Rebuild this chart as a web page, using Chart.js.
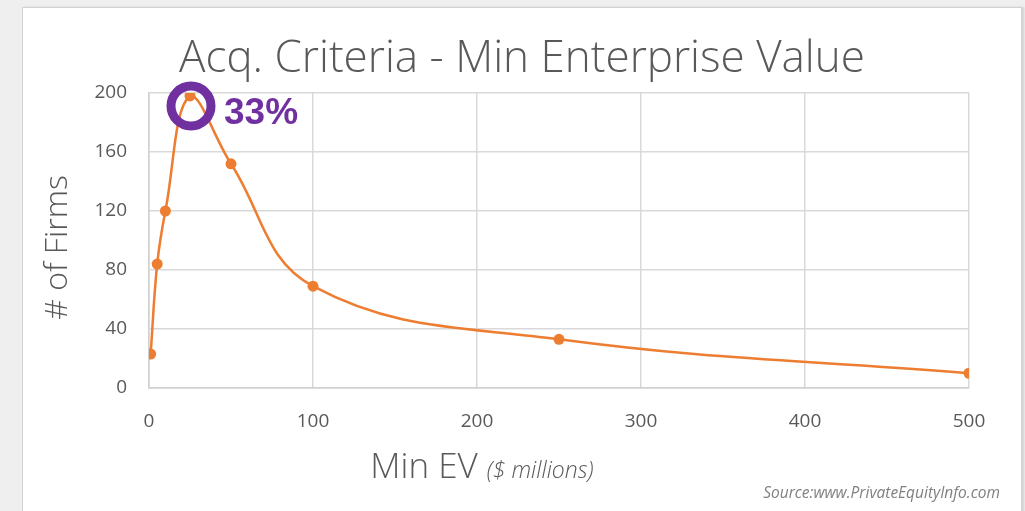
<!DOCTYPE html>
<html>
<head>
<meta charset="utf-8">
<script src="https://cdn.jsdelivr.net/npm/chart.js@4.4.1/dist/chart.umd.min.js"></script>
<style>
  html, body { margin: 0; padding: 0; }
  body { width: 1025px; height: 511px; background: #efefef; overflow: hidden; position: relative; }
  #card { position: absolute; left: 22px; top: 7px; width: 998px; height: 510px; background: #ffffff;
          border: 1px solid #d2d2d2; border-bottom: none; box-shadow: 2px 0 2px rgba(0,0,0,0.12); }
  #wrap { position: absolute; left: 0; top: 0; width: 998px; height: 503px; }
</style>
</head>
<body>
<div id="card"><div id="wrap"><canvas id="c"></canvas></div></div>
<script>
// ---- data ----
const chartTitle = 'Acq. Criteria - Min Enterprise Value';
const yAxisTitle = '# of Firms';
const xAxisTitleMain = 'Min EV';
const xAxisTitleUnit = '($ millions)';
const sourceNote = 'Source:www.PrivateEquityInfo.com';
const calloutText = '33%';
const calloutIndex = 3;

const minEV = [1, 5, 10, 25, 50, 100, 250, 500];
const firmCounts = [23, 84, 120, 198, 152, 69, 33, 10];

const xTicks = [0, 100, 200, 300, 400, 500];
const yTicks = [0, 40, 80, 120, 160, 200];

const points = minEV.map((v, i) => ({ x: v, y: firmCounts[i] }));

const textGray = '#595959';
const orange = '#ED7D31';
const purple = '#7030A0';
const sans = '"Open Sans", "DejaVu Sans", sans-serif';

const annotations = {
  id: 'annotations',
  afterDatasetsDraw(chart) {
    const ctx = chart.ctx;
    const pt = chart.getDatasetMeta(0).data[calloutIndex];
    ctx.save();
    // ring around peak
    ctx.beginPath();
    ctx.strokeStyle = purple;
    ctx.lineWidth = 9;
    ctx.arc(pt.x + 1, pt.y + 10, 20, 0, Math.PI * 2);
    ctx.stroke();
    // percentage label
    ctx.fillStyle = purple;
    ctx.font = 'bold 37px "Liberation Sans", Arial, sans-serif';
    ctx.textAlign = 'left';
    ctx.textBaseline = 'alphabetic';
    ctx.fillText(calloutText, pt.x + 34, pt.y + 28);
    ctx.restore();
  },
  afterDraw(chart) {
    const ctx = chart.ctx;
    const area = chart.chartArea;
    ctx.save();
    // chart title, centred on the card
    ctx.fillStyle = textGray;
    ctx.font = '300 44px ' + sans;
    ctx.textAlign = 'center';
    ctx.textBaseline = 'middle';
    ctx.fillText(chartTitle, chart.width / 2, 51);
    ctx.restore();

    ctx.save();
    // y axis title
    ctx.fillStyle = textGray;
    ctx.font = '300 32px ' + sans;
    ctx.textAlign = 'center';
    ctx.textBaseline = 'middle';
    ctx.translate(35, (area.top + area.bottom) / 2 + 7);
    ctx.rotate(-Math.PI / 2);
    ctx.fillText(yAxisTitle, 0, 0);
    ctx.restore();

    ctx.save();
    // x axis title with mixed fonts
    const mainFont = '300 35px ' + sans;
    const unitFont = 'italic 300 23px ' + sans;
    ctx.font = mainFont;
    const w1 = ctx.measureText(xAxisTitleMain + ' ').width;
    ctx.font = unitFont;
    const w2 = ctx.measureText(xAxisTitleUnit).width;
    const cx = area.left + (area.right - area.left) * 0.406;
    const startX = cx - (w1 + w2) / 2;
    const baseY = area.bottom + 90;
    ctx.fillStyle = textGray;
    ctx.textBaseline = 'alphabetic';
    ctx.textAlign = 'left';
    ctx.font = mainFont;
    ctx.fillText(xAxisTitleMain + ' ', startX, baseY);
    ctx.font = unitFont;
    ctx.fillText(xAxisTitleUnit, startX + w1, baseY);
    // source note
    ctx.font = 'italic 15.5px ' + sans;
    ctx.fillStyle = '#808080';
    ctx.textAlign = 'right';
    ctx.fillText(sourceNote, area.right + 31, area.bottom + 110);
    ctx.restore();
  }
};

new Chart(document.getElementById('c'), {
  type: 'scatter',
  data: {
    datasets: [{
      data: points,
      showLine: true,
      tension: 0.4,
      borderColor: orange,
      backgroundColor: orange,
      borderWidth: 2.5,
      pointRadius: 5.5,
      pointHoverRadius: 5.5,
      pointBorderWidth: 0
    }]
  },
  options: {
    responsive: true,
    maintainAspectRatio: false,
    animation: false,
    events: [],
    layout: { padding: { left: 0, right: 52, top: 85, bottom: 0 } },
    plugins: {
      legend: { display: false },
      tooltip: { enabled: false },
      title: { display: false }
    },
    scales: {
      x: {
        type: 'linear',
        min: xTicks[0],
        max: xTicks[xTicks.length - 1],
        afterBuildTicks(scale) { scale.ticks = xTicks.map(v => ({ value: v })); },
        afterFit(scale) { scale.height = 123; },
        ticks: { color: textGray, font: { family: sans, size: 19 }, padding: 22 },
        grid: { color: '#d9d9d9', lineWidth: 1.5, drawTicks: false },
        border: { color: '#d0d0d0', width: 1.5 },
        title: { display: false }
      },
      y: {
        type: 'linear',
        min: yTicks[0],
        max: yTicks[yTicks.length - 1],
        afterBuildTicks(scale) { scale.ticks = yTicks.map(v => ({ value: v })); },
        afterFit(scale) { scale.width = 126; },
        ticks: { color: textGray, font: { family: sans, size: 19 }, padding: 22 },
        grid: { color: '#d9d9d9', lineWidth: 1.5, drawTicks: false },
        border: { color: '#d0d0d0', width: 1.5 },
        title: { display: false }
      }
    }
  },
  plugins: [annotations]
});
</script>
</body>
</html>
